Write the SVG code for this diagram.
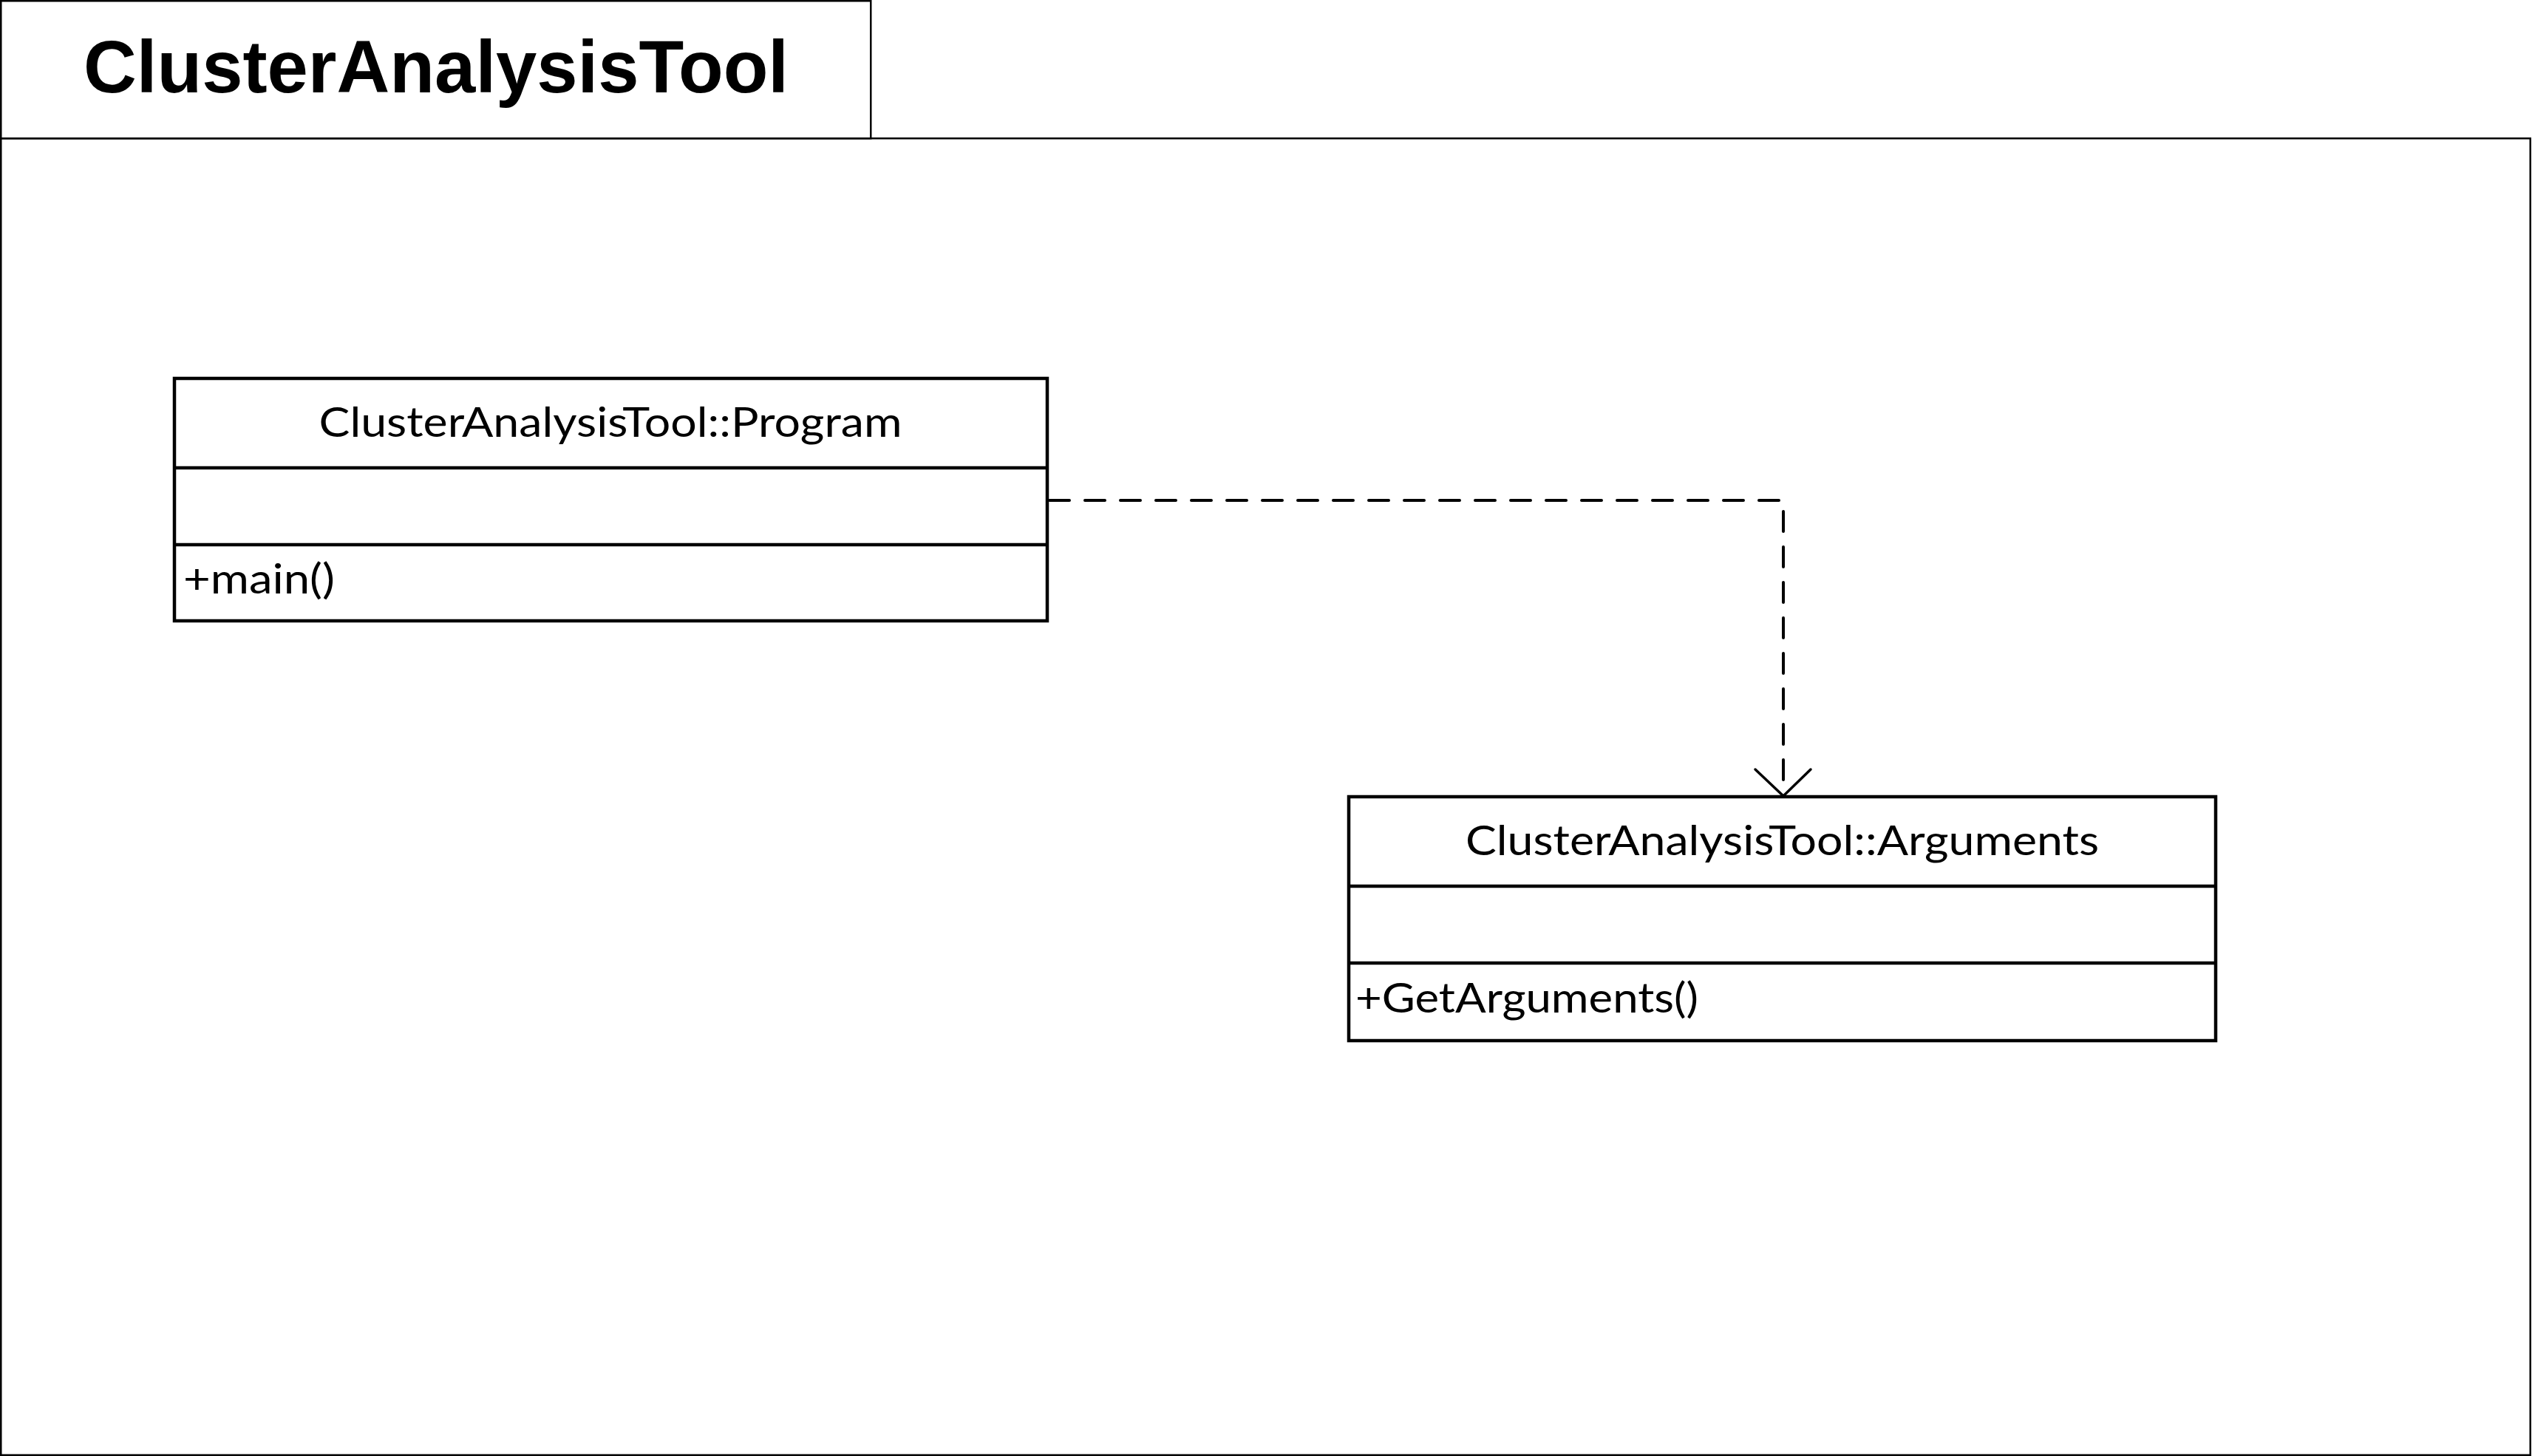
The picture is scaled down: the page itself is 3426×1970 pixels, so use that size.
<svg xmlns="http://www.w3.org/2000/svg" width="3426" height="1970" viewBox="0 0 3426 1970">
<style>
.frame{fill:none;stroke:#000;stroke-width:2.5}
.box{fill:#fff;stroke:#000;stroke-width:4.5}
.div{stroke:#000;stroke-width:4.5}
.title{font-family:"Liberation Sans",Arial,sans-serif;font-weight:bold;font-size:100px;fill:#000}
.cls{font-family:Lato,"Open Sans",sans-serif;font-size:57px;fill:#000}
.dep{fill:none;stroke:#000;stroke-width:4;stroke-dasharray:27 21;stroke-linecap:round}
.head{fill:none;stroke:#000;stroke-width:3.5;stroke-linecap:round;stroke-linejoin:round}
</style>
<rect width="3426" height="1970" fill="#fff"/>
<g id="package">
<rect class="frame" x="1.25" y="1.25" width="1177" height="186"/>
<rect class="frame" x="1.25" y="187.25" width="3422.5" height="1781.5"/>
<text class="title" x="590" y="125" text-anchor="middle" textLength="954" lengthAdjust="spacingAndGlyphs">ClusterAnalysisTool</text>
</g>
<g id="connectors">
<path class="dep" d="M1420 677 H2413 V1074"/>
<path class="head" d="M2375 1041 L2413 1077 L2450 1041"/>
</g>
<g id="program">
<rect class="box" x="236" y="512" width="1181" height="328"/>
<line class="div" x1="236" y1="633" x2="1417" y2="633"/>
<line class="div" x1="236" y1="737" x2="1417" y2="737"/>
<text class="cls" x="826" y="591" text-anchor="middle" textLength="789" lengthAdjust="spacingAndGlyphs">ClusterAnalysisTool::Program</text>
<text class="cls" x="248" y="803" textLength="205" lengthAdjust="spacingAndGlyphs">+main()</text>
</g>
<g id="arguments">
<rect class="box" x="1825" y="1078" width="1173" height="330"/>
<line class="div" x1="1825" y1="1199" x2="2998" y2="1199"/>
<line class="div" x1="1825" y1="1303" x2="2998" y2="1303"/>
<text class="cls" x="2411.5" y="1157" text-anchor="middle" textLength="857" lengthAdjust="spacingAndGlyphs">ClusterAnalysisTool::Arguments</text>
<text class="cls" x="1834" y="1370" textLength="464" lengthAdjust="spacingAndGlyphs">+GetArguments()</text>
</g>
</svg>
